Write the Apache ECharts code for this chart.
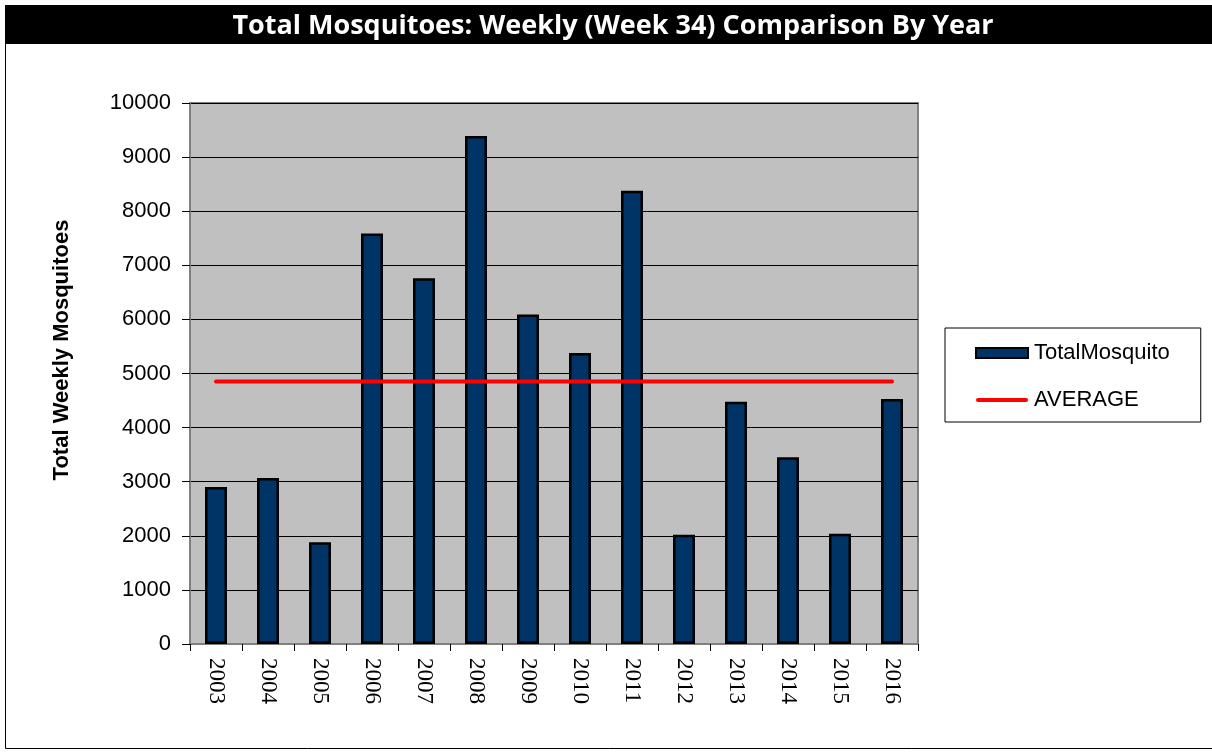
<!DOCTYPE html>
<html>
<head>
<meta charset="utf-8">
<title>Total Mosquitoes</title>
<script src="https://cdn.jsdelivr.net/npm/echarts@6/dist/echarts.min.js"></script>
<style>
  html, body { margin: 0; padding: 0; background: #fff; }
  #chart { width: 1212px; height: 755px; }
</style>
</head>
<body>
<div id="chart"></div>
<script>
// values
const years = ['2003', '2004', '2005', '2006', '2007', '2008', '2009',
  '2010', '2011', '2012', '2013', '2014', '2015', '2016']
const totalMosquito = [2900, 3070, 1880, 7590, 6760, 9390, 6090,
  5380, 8380, 2020, 4480, 3450, 2040, 4530]
const average = [4850, 4850, 4850, 4850, 4850, 4850, 4850,
  4850, 4850, 4850, 4850, 4850, 4850, 4850]
const yTicks = [0, 1000, 2000, 3000, 4000, 5000, 6000, 7000, 8000, 9000, 10000]

const chart = echarts.init(document.getElementById('chart'))

chart.setOption({
  animation: false,
  backgroundColor: '#fff',
  graphic: [
    // white frame under the title bar
    {
      type: 'rect',
      shape: { x: 5.5, y: 43.5, width: 1210, height: 705 },
      style: { fill: '#fff', stroke: '#000', lineWidth: 1 },
      z: -10
    },
    // black title bar
    {
      type: 'rect',
      shape: { x: 5, y: 5, width: 1207, height: 39 },
      style: { fill: '#000' }
    },
    {
      type: 'text',
      x: 613,
      y: 26,
      style: {
        text: 'Total Mosquitoes: Weekly (Week 34) Comparison By Year',
        fill: '#fff',
        font: 'bold 27px "Open Sans", sans-serif',
        align: 'center',
        verticalAlign: 'middle'
      }
    },
    // y axis name
    {
      type: 'text',
      x: 62,
      y: 350,
      rotation: Math.PI / 2,
      style: {
        text: 'Total Weekly Mosquitoes',
        fill: '#000',
        font: 'bold 22px "Liberation Sans", Arial, sans-serif',
        align: 'center',
        verticalAlign: 'middle'
      }
    }
  ],
  grid: {
    left: 190,
    right: 294,
    top: 103,
    bottom: 111,
    show: true,
    backgroundColor: '#C0C0C0',
    borderColor: '#808080',
    borderWidth: 2
  },
  legend: {
    orient: 'vertical',
    left: 945,
    top: 328,
    padding: [14, 31, 11, 30],
    itemGap: 25,
    itemWidth: 52,
    itemHeight: 10,
    symbolKeepAspect: true,
    borderColor: '#000',
    borderWidth: 1,
    backgroundColor: '#fff',
    textStyle: {
      color: '#000',
      fontSize: 22,
      fontFamily: '"Liberation Sans", Arial, sans-serif',
      padding: [0, 0, 0, 1]
    },
    data: [
      {
        name: 'TotalMosquito',
        icon: 'path://M0,0 L52,0 L52,10 L0,10 Z',
        itemStyle: { color: '#003366', borderColor: '#000', borderWidth: 2 }
      },
      {
        name: 'AVERAGE',
        icon: 'path://M2,3 L50,3 A2,2 0 0 1 50,7 L2,7 A2,2 0 0 1 2,3 Z M0,0 L0,0 M52,10 L52,10',
        itemStyle: { color: '#FF0000', borderWidth: 0 }
      }
    ]
  },
  xAxis: {
    type: 'category',
    data: years,
    boundaryGap: true,
    axisLine: { lineStyle: { color: '#808080', width: 2 } },
    axisTick: { show: true, inside: false, length: 7, lineStyle: { color: '#000' } },
    axisLabel: {
      rotate: -90,
      margin: 14,
      color: '#000',
      fontSize: 23,
      fontFamily: '"Liberation Serif", "Times New Roman", serif'
    },
    splitLine: { show: false }
  },
  yAxis: {
    type: 'value',
    min: yTicks[0],
    max: yTicks[yTicks.length - 1],
    interval: 1000,
    axisLine: { show: true, lineStyle: { color: '#808080', width: 2 } },
    axisTick: { show: true, length: 8, lineStyle: { color: '#000' } },
    axisLabel: {
      margin: 19,
      color: '#000',
      fontSize: 22,
      fontFamily: '"Liberation Sans", Arial, sans-serif',
      formatter: v => String(v)
    },
    splitLine: { show: true, lineStyle: { color: '#000', width: 1 } }
  },
  series: [
    {
      name: 'TotalMosquito',
      type: 'bar',
      data: totalMosquito,
      barWidth: 22,
      itemStyle: {
        color: '#003366',
        borderColor: '#000',
        borderWidth: 2.5
      }
    },
    {
      name: 'AVERAGE',
      type: 'line',
      data: average,
      symbol: 'none',
      z: 5,
      lineStyle: { color: '#FF0000', width: 4, cap: 'round' },
      itemStyle: { color: '#FF0000' }
    }
  ]
})
</script>
</body>
</html>
